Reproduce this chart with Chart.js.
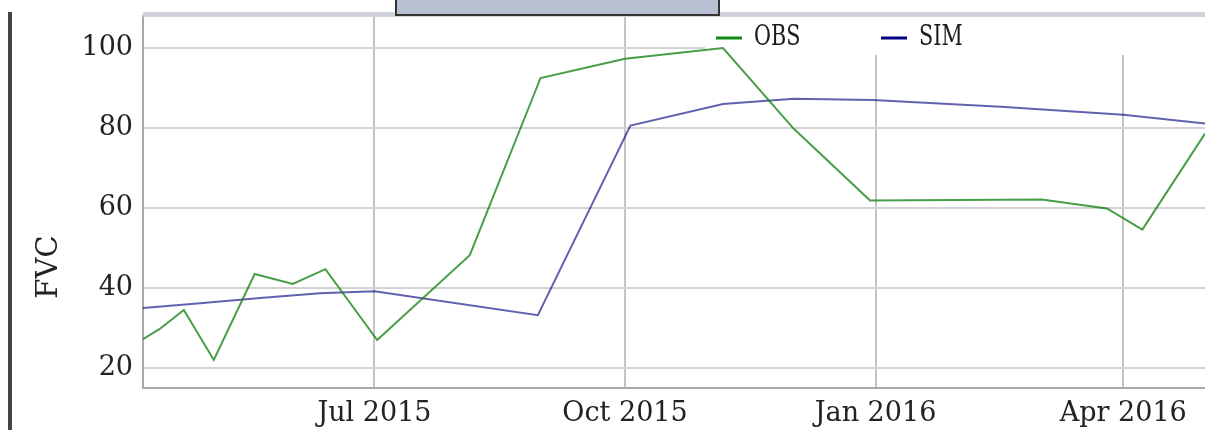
<!DOCTYPE html>
<html>
<head>
<meta charset="utf-8">
<script src="https://cdn.jsdelivr.net/npm/chart.js"></script>
<style>
  html, body { margin: 0; padding: 0; background: #fff; }
  #wrap { width: 1205px; height: 430px; }
</style>
</head>
<body>
<div id="wrap"><canvas id="fvcChart" width="1205" height="430"></canvas></div>
<script>
const obsDates = ["2015-04-07", "2015-04-13", "2015-04-22", "2015-05-03", "2015-05-18", "2015-06-01",
  "2015-06-13", "2015-07-02", "2015-08-05", "2015-08-31", "2015-10-01", "2015-11-06", "2015-12-02",
  "2015-12-30", "2016-03-02", "2016-03-26", "2016-04-08", "2016-05-01"];
const obsValues = [27.2, 29.7, 34.5, 22.0, 43.5, 41.0, 44.7, 27.0, 48.2, 92.5, 97.3, 100.0, 79.8,
  61.9, 62.1, 59.9, 54.6, 78.6];

const simDates = ["2015-04-07", "2015-04-28", "2015-05-20", "2015-06-11", "2015-07-01", "2015-08-30",
  "2015-10-03", "2015-11-06", "2015-12-02", "2015-12-31", "2016-02-16", "2016-04-01", "2016-05-01"];
const simValues = [35.0, 36.2, 37.5, 38.7, 39.2, 33.2, 80.6, 86.0, 87.3, 87.0, 85.3, 83.3, 81.1];

const tickDates = ["2015-07-01", "2015-10-01", "2016-01-01", "2016-04-01"];
const tickLabels = ["Jul 2015", "Oct 2015", "Jan 2016", "Apr 2016"];
const yTicks = [20, 40, 60, 80, 100];

const xMin = "2015-04-07";
const xMax = "2016-05-01";

function toMs(s) {
  const [y, m, d] = s.split("-").map(Number);
  return Date.UTC(y, m - 1, d);
}

function punkte(dates, values) {
  return dates.map((d, i) => ({ x: toMs(d), y: values[i] }));
}

const fontFam = "'DejaVu Serif', serif";

const legendItems = [
  { label: "OBS", color: "#138a13", x: 716 },
  { label: "SIM", color: "#000080", x: 881 }
];

// frame bits around the plot + legend box inside the plot
const deko = {
  id: "deko",
  beforeDraw(chart) {
    const c = chart.ctx;
    c.save();
    c.fillStyle = "#fff";
    c.fillRect(0, 0, chart.width, chart.height);
    c.fillStyle = "#4a4141";
    c.fillRect(8, 12, 4, 420);
    c.restore();
  },
  beforeDatasetsDraw(chart) {
    const c = chart.ctx;
    c.save();
    // legend background hides the grid
    c.fillStyle = "#fff";
    c.fillRect(705, 17, 520, 38);
    legendItems.forEach(it => {
      c.strokeStyle = it.color;
      c.lineWidth = 3;
      c.beginPath();
      c.moveTo(it.x, 38);
      c.lineTo(it.x + 26, 38);
      c.stroke();
      c.save();
      c.translate(it.x + 38, 38);
      c.scale(0.74, 1);
      c.fillStyle = "#1a1a1a";
      c.font = "28px " + fontFam;
      c.textBaseline = "middle";
      c.fillText(it.label, 0, 0);
      c.restore();
    });
    // top band and slider box
    c.fillStyle = "#cfd2db";
    c.fillRect(143, 12, 1062, 5);
    c.fillStyle = "#b9c0d3";
    c.fillRect(396, -2, 323, 17);
    c.strokeStyle = "#333";
    c.lineWidth = 2;
    c.strokeRect(396, -2, 323, 17);
    // y title
    c.save();
    c.translate(49, 267);
    c.rotate(-Math.PI / 2);
    c.fillStyle = "#222";
    c.font = "29px " + fontFam;
    c.textAlign = "center";
    c.textBaseline = "middle";
    c.fillText("FVC", 0, 0);
    c.restore();
    c.restore();
  }
};

const ctx = document.getElementById("fvcChart").getContext("2d");
const fvcChart = new Chart(ctx, {
  type: "line",
  data: {
    datasets: [
      {
        label: "OBS",
        data: punkte(obsDates, obsValues),
        borderColor: "rgba(20,130,20,0.78)",
        borderWidth: 2,
        pointRadius: 0,
        tension: 0
      },
      {
        label: "SIM",
        data: punkte(simDates, simValues),
        borderColor: "rgba(0,0,128,0.62)",
        borderWidth: 2,
        pointRadius: 0,
        tension: 0
      }
    ]
  },
  options: {
    responsive: false,
    animation: false,
    layout: { padding: { top: 16, right: 0, left: 0, bottom: 0 } },
    plugins: {
      legend: { display: false },
      tooltip: { enabled: false }
    },
    scales: {
      x: {
        type: "linear",
        min: toMs(xMin),
        max: toMs(xMax),
        afterBuildTicks: s => { s.ticks = tickDates.map(d => ({ value: toMs(d) })); },
        afterFit: s => { s.height = 42; s.paddingLeft = 0; s.paddingRight = 0; },
        grid: { color: "#c4c4c4", lineWidth: 2, drawTicks: false },
        border: { color: "#a8a8a8", width: 2 },
        ticks: {
          padding: 10,
          color: "#222",
          font: { family: fontFam, size: 27 },
          maxRotation: 0,
          callback: v => {
            const i = tickDates.findIndex(d => toMs(d) === v);
            return i >= 0 ? tickLabels[i] : "";
          }
        }
      },
      y: {
        min: 15,
        max: 108,
        afterBuildTicks: s => { s.ticks = yTicks.map(v => ({ value: v })); },
        afterFit: s => { s.width = 143; s.paddingTop = 0; s.paddingBottom = 0; },
        grid: { color: "#d2d2d2", lineWidth: 2, drawTicks: false },
        border: { color: "#a8a8a8", width: 2 },
        ticks: {
          padding: 10,
          color: "#222",
          font: { family: fontFam, size: 27 }
        }
      }
    }
  },
  plugins: [deko]
});
</script>
</body>
</html>
